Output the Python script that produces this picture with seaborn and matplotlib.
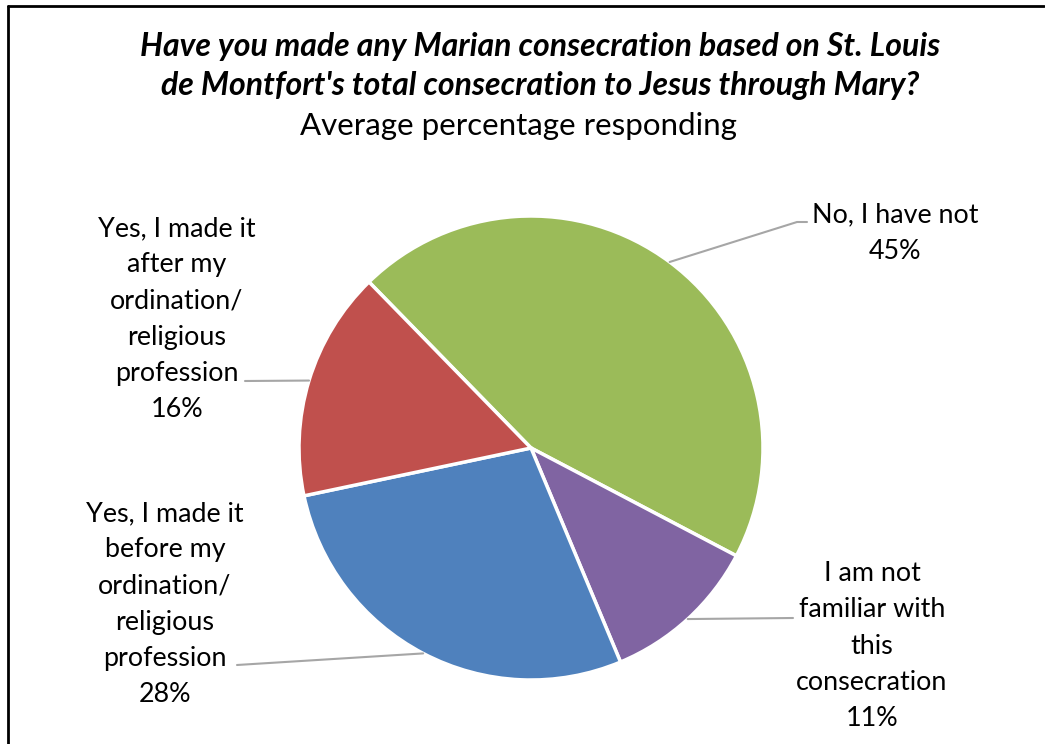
import matplotlib
matplotlib.use("Agg")
import matplotlib.pyplot as plt
import seaborn as sns
import numpy as np

categories = ["No, I have not", "I am not\nfamiliar with\nthis\nconsecration",
              "Yes, I made it\nbefore my\nordination/\nreligious\nprofession",
              "Yes, I made it\nafter my\nordination/\nreligious\nprofession"]
values = [45, 11, 28, 16]
colors = ["#9BBB59", "#8064A2", "#4F81BD", "#C0504D"]
title_line1 = "Have you made any Marian consecration based on St. Louis"
title_line2 = "de Montfort's total consecration to Jesus through Mary?"
subtitle = "Average percentage responding"

sns.set_theme(style="white")
plt.rcParams['font.family'] = ['Lato', 'DejaVu Sans']
plt.rcParams['text.color'] = 'black'

W, H = 1045, 744
fig = plt.figure(figsize=(W / 100, H / 100), dpi=100)
fig.patch.set_facecolor("white")

cx, cy, R = 531, 448, 232
ax = fig.add_axes([(cx - R) / W, (H - cy - R) / H, 2 * R / W, 2 * R / H])

wedges, _ = ax.pie(values, colors=colors, startangle=134.3, counterclock=False,
                   radius=1, wedgeprops=dict(edgecolor="white", linewidth=2.5))
ax.set_xlim(-1, 1)
ax.set_ylim(-1, 1)
ax.set_aspect("equal")
ax.axis("off")

def px2d(px, py):
    return (px - cx) / R, (cy - py) / R

# label layout (pixel positions): elbow points and text centres
layout = [
    dict(path=[(797, 222), (807, 222)], text=(895, 233)),
    dict(path=[(793, 618)], text=(872, 646)),
    dict(path=[(237, 665)], text=(165, 604)),
    dict(path=[(245, 381)], text=(177, 319)),
]
lc = "#A6A6A6"
for w, cat, v, lay in zip(wedges, categories, values, layout):
    mid = np.deg2rad((w.theta1 + w.theta2) / 2)
    xs = [np.cos(mid) * 1.0]
    ys = [np.sin(mid) * 1.0]
    for p in lay["path"]:
        x, y = px2d(*p)
        xs.append(x)
        ys.append(y)
    ax.plot(xs, ys, color=lc, lw=1.5, clip_on=False)
    tx, ty = px2d(*lay["text"])
    ax.text(tx, ty, f"{cat}\n{v}%", ha="center", va="center", multialignment="center",
            fontsize=19.4, linespacing=1.56, color="black", clip_on=False)

fig.text(540 / W, 1 - 56 / H, title_line1, ha="center", va="baseline", color="black",
         fontsize=23, fontweight="bold", fontstyle="italic")
fig.text(540 / W, 1 - 95 / H, title_line2, ha="center", va="baseline", color="black",
         fontsize=23, fontweight="bold", fontstyle="italic")
fig.text(518 / W, 1 - 135 / H, subtitle, ha="center", va="baseline", fontsize=22.5,
         color="black")

# outer border (left and top visible)
from matplotlib.lines import Line2D
fig.add_artist(Line2D([7.5 / W, 7.5 / W], [0, 1 - 5.5 / H], color="black", lw=2,
                      transform=fig.transFigure))
fig.add_artist(Line2D([7.5 / W, 1044 / W], [1 - 5.5 / H, 1 - 5.5 / H], color="black", lw=2,
                      transform=fig.transFigure))

fig.savefig("out.png", dpi=100)
